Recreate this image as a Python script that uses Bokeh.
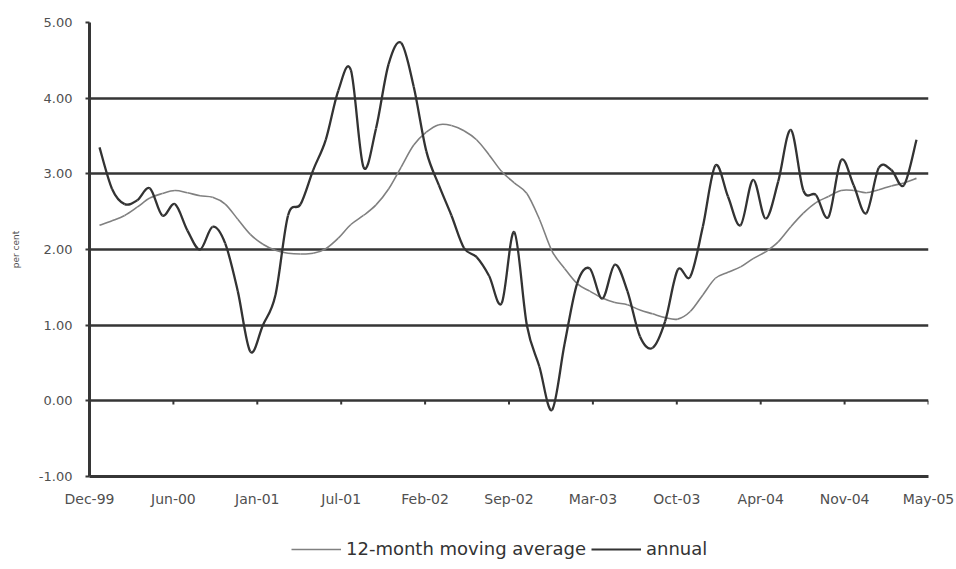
import numpy as np
from bokeh.plotting import figure
from bokeh.layouts import column
from bokeh.models import (Range1d, FixedTicker, CustomJSTickFormatter, PrintfTickFormatter,
                          Legend, LegendItem, ColumnDataSource)
from bokeh.embed import file_html
from bokeh.resources import INLINE

# ---- data (monthly, Dec-99 .. May-05) ----
month_names = ["Jan", "Feb", "Mar", "Apr", "May", "Jun", "Jul", "Aug", "Sep", "Oct", "Nov", "Dec"]
months = ["Dec-99"] + [f"{m}-{y:02d}" for y in range(0, 5) for m in month_names] + \
         [f"{m}-05" for m in month_names[:5]]

annual = [3.35, 2.80, 2.60, 2.65, 2.81, 2.45, 2.60, 2.25, 2.00, 2.30,
          2.08, 1.45, 0.65, 1.00, 1.40, 2.45, 2.60, 3.05, 3.45, 4.10,
          4.37, 3.09, 3.60, 4.45, 4.73, 4.15, 3.30, 2.85, 2.45, 2.02,
          1.90, 1.65, 1.29, 2.23, 1.00, 0.45, -0.12, 0.75, 1.55, 1.75,
          1.35, 1.80, 1.45, 0.85, 0.70, 1.05, 1.73, 1.64, 2.30, 3.11,
          2.70, 2.32, 2.92, 2.41, 2.90, 3.58, 2.78, 2.72, 2.43, 3.18,
          2.85, 2.48, 3.08, 3.05, 2.85, 3.45]

moving_avg = [2.32, 2.38, 2.45, 2.56, 2.68, 2.74, 2.78, 2.75, 2.71, 2.69,
              2.60, 2.40, 2.20, 2.07, 1.99, 1.95, 1.94, 1.95, 2.01, 2.15,
              2.33, 2.45, 2.59, 2.80, 3.09, 3.38, 3.55, 3.65, 3.64, 3.57,
              3.45, 3.25, 3.03, 2.88, 2.74, 2.40, 1.98, 1.75, 1.55, 1.45,
              1.36, 1.30, 1.27, 1.20, 1.15, 1.10, 1.08, 1.18, 1.40, 1.62,
              1.70, 1.77, 1.88, 1.97, 2.10, 2.30, 2.48, 2.62, 2.70, 2.78,
              2.78, 2.75, 2.79, 2.84, 2.88, 2.94]

x_tick_labels = ["Dec-99", "Jun-00", "Jan-01", "Jul-01", "Feb-02", "Sep-02",
                 "Mar-03", "Oct-03", "Apr-04", "Nov-04", "May-05"]
y_ticks = [-1, 0, 1, 2, 3, 4, 5]

# ---- layout ----
x_idx = np.arange(len(months), dtype=float)
x_start = -0.796
x_end = (len(months) - 1) + 0.955
n_int = len(x_tick_labels) - 1
x_ticks = [x_start + k * (x_end - x_start) / n_int for k in range(n_int)] + [x_end]

W = 956
p = figure(width=W, height=511, output_backend="svg", toolbar_location=None,
           x_range=Range1d(x_start, x_end), y_range=Range1d(-1, 5),
           min_border_left=89, min_border_right=28, min_border_top=22, min_border_bottom=35)
p.outline_line_color = None
p.background_fill_color = "white"
p.border_fill_color = "white"

GRID = "#363636"
FONT = "DejaVu Sans"
TXT = "#505050"

# grid
p.xgrid.visible = False
p.ygrid.ticker = FixedTicker(ticks=y_ticks)
p.ygrid.grid_line_color = GRID
p.ygrid.grid_line_width = 2.6

# y axis
p.yaxis.ticker = FixedTicker(ticks=y_ticks)
p.yaxis.formatter = PrintfTickFormatter(format="%.2f")
p.yaxis.axis_line_color = GRID
p.yaxis.axis_line_width = 3
p.yaxis.major_tick_line_color = GRID
p.yaxis.major_tick_line_width = 2
p.yaxis.major_tick_out = 4
p.yaxis.major_tick_in = 0
p.yaxis.minor_tick_line_color = None
p.yaxis.major_label_standoff = 13
p.yaxis.major_label_text_font = FONT
p.yaxis.major_label_text_font_size = "13px"
p.yaxis.major_label_text_color = TXT
p.yaxis.axis_label = "per cent"
p.yaxis.axis_label_text_font = FONT
p.yaxis.axis_label_text_font_size = "9px"
p.yaxis.axis_label_text_font_style = "normal"
p.yaxis.axis_label_text_color = TXT
p.yaxis.axis_label_standoff = 15

# x axis (labels sit under the -1.00 line)
p.xaxis.ticker = FixedTicker(ticks=x_ticks)
p.xaxis.formatter = CustomJSTickFormatter(args=dict(labels=x_tick_labels),
                                          code="const l = labels[index]; return l === undefined ? '' : l;")
p.xaxis.axis_line_color = GRID
p.xaxis.axis_line_width = 3
p.xaxis.major_tick_line_color = None
p.xaxis.minor_tick_line_color = None
p.xaxis.major_label_standoff = 8
p.xaxis.major_label_text_font = FONT
p.xaxis.major_label_text_font_size = "14px"
p.xaxis.major_label_text_color = TXT

# tick marks on the zero line
p.segment(x0=x_ticks, y0=[0] * len(x_ticks), x1=x_ticks, y1=[-0.05] * len(x_ticks),
          line_color=GRID, line_width=2)


# smooth curves (Catmull-Rom as cubic Bezier segments through the data points)
def bezier_source(xs, ys):
    xs = np.asarray(xs, float)
    ys = np.asarray(ys, float)
    xp = np.concatenate([[xs[0]], xs, [xs[-1]]])
    yp = np.concatenate([[ys[0]], ys, [ys[-1]]])
    n = len(xs) - 1
    d = dict(x0=[], y0=[], x1=[], y1=[], cx0=[], cy0=[], cx1=[], cy1=[])
    for i in range(n):
        a, b, c, e = i, i + 1, i + 2, i + 3
        d["x0"].append(xp[b]); d["y0"].append(yp[b])
        d["x1"].append(xp[c]); d["y1"].append(yp[c])
        d["cx0"].append(xp[b] + (xp[c] - xp[a]) / 6)
        d["cy0"].append(yp[b] + (yp[c] - yp[a]) / 6)
        d["cx1"].append(xp[c] - (xp[e] - xp[b]) / 6)
        d["cy1"].append(yp[c] - (yp[e] - yp[b]) / 6)
    return ColumnDataSource(d)


MA_COLOR = "#808080"
AN_COLOR = "#333333"

p.bezier(x0="x0", y0="y0", x1="x1", y1="y1", cx0="cx0", cy0="cy0", cx1="cx1", cy1="cy1",
         source=bezier_source(x_idx, moving_avg), line_color=MA_COLOR, line_width=1.6)
p.bezier(x0="x0", y0="y0", x1="x1", y1="y1", cx0="cx0", cy0="cy0", cx1="cx1", cy1="cy1",
         source=bezier_source(x_idx, annual), line_color=AN_COLOR, line_width=2.3)

# ---- legend strip below the chart ----
lg = figure(width=W, height=50, output_backend="svg", toolbar_location=None,
            x_axis_location=None, y_axis_location=None,
            x_range=Range1d(0, 1), y_range=Range1d(0, 1),
            min_border_left=0, min_border_right=0, min_border_top=0, min_border_bottom=0)
lg.grid.visible = False
lg.outline_line_color = None
lg.border_fill_color = "white"
# proxy renderers for the legend keys (their points lie outside the visible range)
ma_leg = lg.line(x=[5, 6], y=[5, 5], line_color=MA_COLOR, line_width=1.4)
an_leg = lg.line(x=[5, 6], y=[5, 5], line_color=AN_COLOR, line_width=2.0)
legend = Legend(items=[LegendItem(label="12-month moving average", renderers=[ma_leg]),
                       LegendItem(label="annual", renderers=[an_leg])],
                orientation="horizontal", location=(200, 0),
                border_line_alpha=0, background_fill_alpha=0,
                label_text_font=FONT, label_text_font_size="18px", label_text_color="#333333",
                glyph_width=50, glyph_height=20, label_standoff=5, spacing=5, margin=0, padding=2)
lg.add_layout(legend, "center")

open("out.html", "w").write(file_html(column(p, lg), INLINE))
